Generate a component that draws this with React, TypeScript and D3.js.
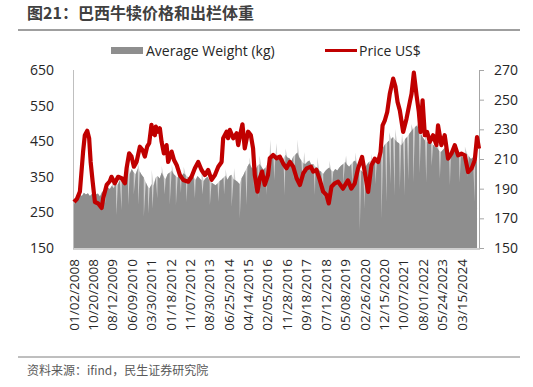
import React from "react";
import * as d3 from "d3";

const tickLabels = [
  "01/02/2008", "10/20/2008", "08/12/2009", "06/09/2010", "03/30/2011", "01/18/2012",
  "11/07/2012", "08/30/2013", "06/25/2014", "04/14/2015", "02/05/2016", "11/28/2016",
  "09/18/2017", "07/12/2018", "05/08/2019", "02/26/2020", "12/15/2020", "10/07/2021",
  "08/01/2022", "05/24/2023", "03/15/2024",
];

const leftTicks = [150, 250, 350, 450, 550, 650];
const rightTicks = [150, 170, 190, 210, 230, 250, 270];

const priceDates = [
  "2008-01-02","2008-02-15","2008-04-01","2008-05-20","2008-06-15","2008-07-22","2008-08-20","2008-09-12","2008-10-12","2008-11-16",
  "2009-01-05","2009-02-27","2009-03-22","2009-05-14","2009-07-01","2009-07-27","2009-09-15","2009-11-05","2009-12-28",
  "2010-02-18","2010-03-14","2010-04-22","2010-05-29","2010-07-04","2010-08-13","2010-10-03","2010-11-13","2010-12-18",
  "2011-01-22","2011-02-22","2011-03-29","2011-04-20","2011-05-04","2011-05-20","2011-06-03","2011-07-08","2011-08-04","2011-08-30","2011-10-04","2011-11-14","2011-12-09",
  "2012-01-30","2012-03-07","2012-04-16","2012-06-06","2012-07-25","2012-10-09","2012-11-29",
  "2013-01-19","2013-03-11","2013-05-01","2013-06-21","2013-08-10","2013-10-01","2013-11-21",
  "2014-01-11","2014-03-03","2014-03-27","2014-05-18","2014-06-10","2014-07-07","2014-08-27","2014-10-17","2014-11-11","2014-12-21",
  "2015-01-15","2015-02-19","2015-04-11","2015-05-22","2015-06-26","2015-07-22","2015-09-01","2015-10-06","2015-11-10","2015-12-21",
  "2016-02-09","2016-03-07","2016-04-27","2016-06-17","2016-08-07","2016-09-27","2016-11-17",
  "2017-01-08","2017-02-28","2017-04-20","2017-06-10","2017-07-31","2017-09-20","2017-11-24","2017-12-29",
  "2018-02-17","2018-04-09","2018-05-30","2018-07-20","2018-08-24","2018-10-04","2018-11-24",
  "2019-01-14","2019-03-28","2019-06-12","2019-08-03","2019-09-23","2019-11-13",
  "2020-01-14","2020-02-24","2020-04-15","2020-06-05","2020-07-26","2020-09-15","2020-10-22","2020-11-22","2020-12-27",
  "2021-02-01","2021-03-12","2021-05-02","2021-06-07","2021-07-08","2021-08-12","2021-10-02","2021-11-22",
  "2022-01-12","2022-02-07","2022-03-14","2022-04-24","2022-05-29","2022-06-24","2022-07-25","2022-08-29","2022-10-03","2022-11-13",
  "2023-01-02","2023-02-22","2023-03-18","2023-05-08","2023-06-28","2023-08-18","2023-10-08","2023-11-28",
  "2024-01-18","2024-03-09","2024-04-29","2024-06-19","2024-08-09","2024-09-28","2024-11-02","2024-12-02",
];
const priceValues = [
  181,183,188,215,226,229,224,208,195,181,
  180,177,183.5,192.5,195,198,193.6,198,197,
  193.6,203.7,213.8,211.6,204.8,208,218.3,216,211.6,
  218.3,220.6,233,227,230.7,226,231.8,228.4,230.7,221.7,213.8,219.4,208,
  215,209.3,206,199,195.9,194.7,198,
  203.7,208,202.6,199.2,202.6,195.9,199.2,
  204.8,208,224,228.4,224,229.6,224,227.3,219.4,228.4,
  233.4,217.2,228.4,226.2,217.2,199.2,188,197,201.5,192.5,
  199.2,210.5,212.7,210.5,211.6,207,203.7,
  208,204.8,197,192.5,200.4,203.7,204.8,201.5,
  202.6,195.9,188,185.7,180.1,191.3,193.6,
  194.7,190,195.6,190,193.4,203.5,
  211.4,201.2,187.8,205.8,210.2,208,214.7,232.7,236.1,
  241.7,254,264.2,258.6,248.5,242.8,228.2,237.2,
  248.5,254,268.2,252.9,241.7,228.2,249.6,226,228.2,221.5,
  226,219.3,232.7,219.3,226,210.2,213.6,219.3,
  212.5,213.6,212.5,201.2,203.5,209.2,224.8,217,
];

// Average weight, monthly from 2008-01
const weightStart = "2008-01-01";
const weightValues = [
  272,288,292,300,296,305,300,304,296,302,295,300,
  303,295,306,312,308,320,316,325,318,335,328,342,
  335,352,348,366,358,372,362,358,374,365,355,348,
  335,322,318,330,325,348,352,345,362,350,344,358,
  362,368,358,352,348,356,352,360,355,350,346,352,
  348,342,352,346,340,338,346,350,338,334,330,326,
  332,338,342,348,354,342,352,356,344,340,336,330,
  346,356,368,378,388,376,372,368,382,386,378,370,
  376,388,396,402,408,412,402,398,394,402,412,404,
  402,394,408,412,418,404,396,388,386,392,396,384,
  386,378,376,368,364,358,366,372,376,368,364,372,
  368,376,382,386,392,384,378,386,392,396,384,372,
  368,362,376,386,392,396,384,392,402,412,422,432,
  442,446,452,456,462,454,448,444,438,446,456,462,
  470,478,484,490,494,482,470,460,452,446,454,448,
  440,434,432,424,420,426,432,424,418,414,420,426,
  420,414,410,404,410,416,408,400,404,396,392,
];
// sharp downward spikes in the weight series
const dipDates = [
  "2009-04-20","2009-10-10","2009-12-28","2010-04-08","2010-07-01","2010-09-08","2010-12-02","2011-02-06","2011-04-15","2011-06-26",
  "2011-10-15","2012-01-01","2012-04-05","2012-06-20","2012-09-15","2013-01-19","2013-05-15","2013-09-05","2014-01-11","2014-04-10",
  "2014-08-02","2014-12-05","2015-03-20","2015-07-10","2015-09-20","2016-01-20","2016-05-15","2016-10-20","2017-03-10","2017-07-20",
  "2018-01-25","2018-05-30","2018-10-10","2019-04-01","2019-08-20","2019-12-10","2020-02-24",
  "2020-05-10","2020-08-01","2020-11-05","2021-01-20","2021-03-25","2021-05-25","2021-08-12","2021-10-25","2021-12-20","2022-03-05","2022-06-10","2022-09-20",
  "2022-12-10","2023-04-15","2023-09-15","2024-02-10","2024-06-05","2024-09-28","2024-11-02",
];
const dipValues = [
  275,243,257,271,300,271,238,247,261,290,
  300,271,271,305,280,290,300,271,280,300,
  266,233,271,320,290,299,340,299,345,340,
  299,290,320,330,330,200,260,
  298,330,232,279,330,298,316,298,340,335,360,335,
  380,345,326,335,350,279,270,
];
// light upward streaks at the top of the weight series
const peakDates = [
  "2009-08-15","2010-04-20","2010-09-01","2011-04-01","2011-09-01","2012-02-01","2012-08-01","2013-05-01","2014-05-01","2014-09-10",
  "2015-05-01","2015-10-01","2016-03-15","2016-06-20","2016-11-01","2017-05-01","2017-08-15","2018-03-01","2018-09-01","2019-05-15",
  "2019-10-01","2020-06-01","2020-10-15","2021-03-01","2021-06-01","2021-09-15","2022-02-01","2022-05-15","2022-09-01","2023-03-01",
  "2023-07-01","2023-12-01","2024-05-01",
];
const peakValues = [
  335,385,390,370,380,385,378,370,372,375,
  405,410,455,445,430,455,420,405,395,410,
  418,415,440,475,484,470,498,500,470,455,
  450,445,435,
];

type Pt = { date: Date; value: number };

export default function App() {
  const W = 533, H = 387;
  const parse = d3.timeParse("%Y-%m-%d");
  const parseTick = d3.timeParse("%m/%d/%Y");
  const x = d3.scaleTime().domain([parse("2008-01-02")!, parse("2024-12-02")!]).range([74, 479]);
  const yL = d3.scaleLinear().domain([150, 650]).range([248, 70]);
  const yR = d3.scaleLinear().domain([150, 270]).range([248, 70]);

  const start = parse(weightStart)!;
  const weightPts: Pt[] = weightValues.map((v, i) => ({ date: d3.timeMonth.offset(start, i), value: v }));
  const dipPts: Pt[] = dipDates.map((d, i) => ({ date: parse(d)!, value: dipValues[i] }));
  const peakPts: Pt[] = peakDates.map((d, i) => ({ date: parse(d)!, value: peakValues[i] }));
  const mainWeight = [...weightPts, ...dipPts].sort((a, b) => +a.date - +b.date);
  const lightWeight = [...weightPts, ...peakPts].sort((a, b) => +a.date - +b.date);

  const area = d3.area<Pt>()
    .x(d => Math.min(479, Math.max(73.5, x(d.date))))
    .y0(yL(150))
    .y1(d => yL(d.value));

  const pricePts: Pt[] = priceDates.map((d, i) => ({ date: parse(d)!, value: priceValues[i] }));
  const line = d3.line<Pt>()
    .x(d => x(d.date))
    .y(d => yR(d.value));

  const font = "'Open Sans', 'Noto Sans CJK SC', sans-serif";
  const cjk = "'Noto Sans CJK SC', sans-serif";

  return (
    <svg width={W} height={H} style={{ position: "absolute", left: 0, top: 0, background: "#fff" }}>
      <text x={27} y={19} fontFamily={cjk} fontWeight={700} fontSize={16} fill="#404040">图21：巴西牛犊价格和出栏体重</text>
      <line x1={18} x2={520} y1={30} y2={30} stroke="#7f7f7f" strokeWidth={1.5} />

      {/* legend */}
      <rect x={111} y={47} width={32} height={7} fill="#8e8e8e" />
      <text x={146} y={55.5} fontFamily={font} fontSize={14} fill="#262626">Average Weight (kg)</text>
      <line x1={325} x2={357} y1={50.5} y2={50.5} stroke="#c00000" strokeWidth={3} />
      <text x={359} y={55.5} fontFamily={font} fontSize={14} fill="#262626">Price US$</text>

      {/* weight area */}
      <path d={area(lightWeight) || ""} fill="#cfcfcf" />
      <path d={area(mainWeight) || ""} fill="#8e8e8e" />

      {/* axes */}
      <line x1={73.5} x2={73.5} y1={70} y2={249} stroke="#bfbfbf" strokeWidth={1} />
      <line x1={73} x2={480} y1={249} y2={249} stroke="#bfbfbf" strokeWidth={1.5} />
      <line x1={479.5} x2={479.5} y1={70} y2={248} stroke="#a6a6a6" strokeWidth={1} />
      {rightTicks.map(v => (
        <line key={v} x1={479.5} x2={484} y1={yR(v) + 0.5} y2={yR(v) + 0.5} stroke="#a6a6a6" strokeWidth={1} />
      ))}

      {/* price line */}
      <path d={line(pricePts) || ""} fill="none" stroke="#c00000" strokeWidth={4.2} strokeLinejoin="round" />

      {leftTicks.map(v => (
        <text key={v} x={54} y={yL(v)} dy="0.35em" textAnchor="end" fontFamily={font} fontSize={14} fill="#262626">{v}</text>
      ))}
      {rightTicks.map(v => (
        <text key={v} x={494} y={yR(v)} dy="0.35em" textAnchor="start" fontFamily={font} fontSize={14} fill="#262626">{v}</text>
      ))}
      {tickLabels.map(t => {
        const px = x(parseTick(t)!);
        return (
          <text key={t} transform={`translate(${px},259) rotate(-90)`} dy="0.35em" textAnchor="end" fontFamily={font} fontSize={13.5} fill="#262626">{t}</text>
        );
      })}

      <line x1={18} x2={520} y1={357} y2={357} stroke="#7f7f7f" strokeWidth={1} />
      <text x={27} y={375} fontFamily={cjk} fontSize={12} fill="#595959">资料来源：ifind，民生证券研究院</text>
    </svg>
  );
}
